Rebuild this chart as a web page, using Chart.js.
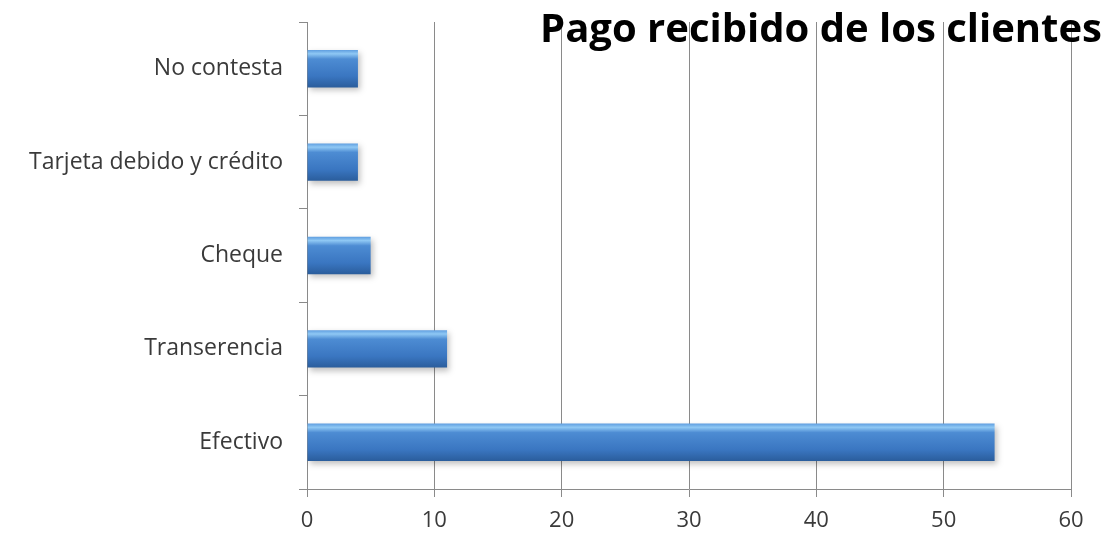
<!DOCTYPE html>
<html>
<head>
<meta charset="utf-8">
<script src="https://cdn.jsdelivr.net/npm/chart.js@4/dist/chart.umd.min.js"></script>
<style>
  html, body { margin: 0; padding: 0; background: #ffffff; }
  #wrap { position: relative; width: 1116px; height: 533px; }
</style>
</head>
<body>
<div id="wrap"><canvas id="c" width="1116" height="533"></canvas></div>
<script>
const titleText = 'Pago recibido de los clientes';
const categories = ['No contesta', 'Tarjeta debido y crédito', 'Cheque', 'Transerencia', 'Efectivo'];
const values = [4, 4, 5, 11, 54];
const xTicks = [0, 10, 20, 30, 40, 50, 60];

const FONT = "'Open Sans', 'DejaVu Sans', sans-serif";
const TEXT = '#3a3a3a';
const GRID = '#8a8a8a';

function barGradient(context) {
  const chart = context.chart;
  const yScale = chart.scales.y;
  if (!yScale || yScale.top === undefined || !chart.chartArea) return '#3b7bc8';
  const catH = (yScale.bottom - yScale.top) / categories.length;
  const h = catH * 0.4;
  const c = yScale.getPixelForValue(context.dataIndex);
  const top = c - h / 2, bot = c + h / 2;
  const g = chart.ctx.createLinearGradient(0, top, 0, bot);
  g.addColorStop(0, '#5f9ee0');
  g.addColorStop(0.1, '#8fc8f4');
  g.addColorStop(0.24, '#4d8cd3');
  g.addColorStop(0.7, '#3a76c1');
  g.addColorStop(1, '#2a5d9c');
  return g;
}

const shadowPlugin = {
  id: 'barShadow',
  beforeDatasetsDraw(chart) {
    const ctx = chart.ctx;
    ctx.save();
    ctx.shadowColor = 'rgba(0,0,0,0.25)';
    ctx.shadowBlur = 6;
    ctx.shadowOffsetX = 2;
    ctx.shadowOffsetY = 3;
  },
  afterDatasetsDraw(chart) {
    chart.ctx.restore();
  }
};

const titlePlugin = {
  id: 'overlayTitle',
  afterDraw(chart) {
    const ctx = chart.ctx;
    ctx.save();
    ctx.font = "bold 40px " + FONT;
    ctx.fillStyle = '#000000';
    ctx.textAlign = 'right';
    ctx.textBaseline = 'alphabetic';
    ctx.fillText(titleText, 1102, 42);
    ctx.restore();
  }
};

new Chart(document.getElementById('c'), {
  type: 'bar',
  data: {
    labels: categories,
    datasets: [{
      data: values,
      backgroundColor: barGradient,
      borderWidth: 0,
      categoryPercentage: 1,
      barPercentage: 0.4
    }]
  },
  options: {
    indexAxis: 'y',
    responsive: false,
    animation: false,
    devicePixelRatio: 1,
    layout: { padding: { top: 22, right: 45, left: 0, bottom: 0 } },
    plugins: {
      legend: { display: false },
      title: { display: false },
      tooltip: { enabled: false }
    },
    scales: {
      x: {
        min: 0,
        max: 60,
        afterBuildTicks(scale) { scale.ticks = xTicks.map(v => ({ value: v })); },
        afterFit(scale) { scale.height = 44; },
        ticks: { color: TEXT, font: { family: FONT, size: 22 }, padding: 11 },
        grid: { color: GRID, lineWidth: 1, tickLength: 8, drawOnChartArea: true },
        border: { color: GRID, width: 1 }
      },
      y: {
        afterFit(scale) { scale.width = 307; scale.paddingTop = 0; scale.paddingBottom = 0; },
        ticks: { color: TEXT, font: { family: FONT, size: 23 }, padding: 16 },
        grid: { display: true, offset: true, drawOnChartArea: false, tickLength: 8, color: GRID },
        border: { color: GRID, width: 1 }
      }
    }
  },
  plugins: [shadowPlugin, titlePlugin]
});
</script>
</body>
</html>
